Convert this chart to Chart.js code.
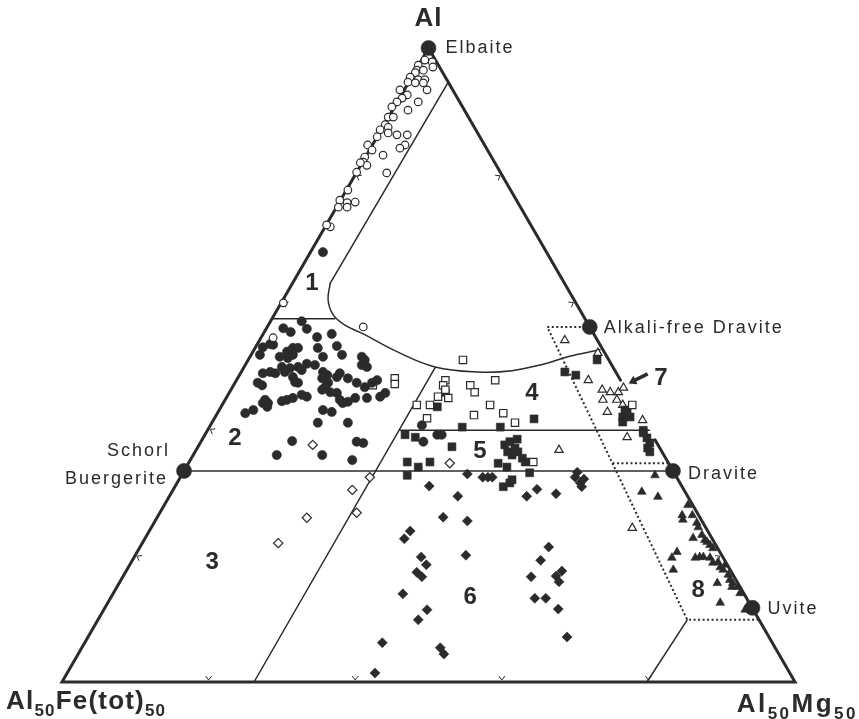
<!DOCTYPE html>
<html><head><meta charset="utf-8">
<script src="https://cdn.jsdelivr.net/npm/chart.js@4.4.0/dist/chart.umd.min.js"></script>
<style>html,body{margin:0;padding:0;background:#fff;}canvas{display:block;}</style>
</head><body>
<canvas id="c" width="859" height="719"></canvas>
<script>
// Positions inside the triangle: x = % along the base (Fe -> Mg side), y = % of height (Al apex = 100)
const openCircles = [[50.5,97.8],[49.5,98.1],[48.6,97.3],[48.4,96.5],[49.3,96.5],[50.6,97.0],[48.2,96.1],[47.5,95.4],[48.6,95.0],[49.5,95.0],[47.2,94.6],[48.2,94.5],[49.3,94.5],[49.8,93.4],[46.1,93.4],[47.1,92.6],[46.4,92.1],[48.6,91.5],[45.7,91.5],[45.0,90.7],[47.2,90.2],[44.5,89.1],[45.2,89.1],[44.1,87.9],[44.5,87.5],[43.4,87.1],[44.5,86.6],[45.7,86.3],[47.1,86.3],[43.0,86.0],[46.8,84.7],[46.1,84.2],[41.7,84.7],[42.3,83.9],[43.8,83.1],[41.3,82.8],[41.1,82.0],[41.6,81.5],[40.7,81.9],[40.2,80.4],[44.3,80.3],[39.0,77.6],[37.9,76.0],[38.9,75.6],[40.0,75.7],[37.7,74.9],[38.9,74.9],[36.6,71.8],[36.1,72.1],[30.2,59.8],[41.1,56.0],[28.8,54.3]];
const filledCircles = [[35.6,67.8],[32.7,56.9],[33.4,55.7],[30.2,55.8],[31.2,55.2],[34.8,54.4],[36.8,54.9],[27.4,52.8],[28.4,53.3],[28.8,53.2],[31.5,52.7],[32.2,52.7],[30.7,52.1],[34.9,52.7],[37.5,53.0],[27.0,51.6],[29.7,51.3],[30.8,51.1],[31.5,51.6],[35.6,51.3],[38.2,51.6],[40.9,51.3],[41.3,50.8],[30.0,49.7],[31.1,49.5],[32.2,49.7],[33.4,50.2],[34.5,50.0],[40.9,50.0],[41.6,49.7],[27.4,48.7],[28.4,48.9],[29.1,48.7],[30.4,48.9],[32.7,49.2],[35.6,48.9],[36.2,48.4],[37.9,48.7],[37.5,48.1],[39.0,47.9],[35.5,47.9],[27.3,46.8],[26.7,47.2],[31.8,47.3],[32.2,47.2],[31.5,48.1],[36.3,47.2],[40.2,47.2],[41.3,46.5],[42.3,47.2],[43.0,47.6],[35.9,46.5],[35.5,46.1],[36.6,45.7],[37.5,45.6],[40.0,44.8],[41.6,44.8],[43.4,45.0],[44.1,45.6],[30.7,44.5],[30.0,44.3],[31.5,44.8],[32.7,45.3],[33.4,45.0],[27.7,44.5],[28.1,44.0],[27.4,44.0],[28.0,43.4],[37.9,44.5],[38.3,44.0],[39.0,44.2],[25.0,42.4],[26.1,42.9],[35.6,42.9],[36.8,42.6],[34.9,40.9],[39.0,40.9],[31.4,38.0],[40.2,37.9],[41.1,37.7],[29.3,35.8],[35.5,35.8],[39.6,35.0],[49.1,40.5],[49.3,37.9],[51.2,39.0],[51.8,39.0]];
const openSquares = [[54.7,50.8],[52.3,47.6],[52.0,46.8],[52.3,46.1],[51.3,45.0],[52.7,44.8],[55.7,46.8],[56.3,45.7],[59.1,47.6],[48.4,43.7],[50.2,43.7],[58.4,43.7],[60.2,42.4],[56.2,42.1],[49.8,41.6],[61.8,40.9],[64.3,34.7],[42.4,46.8],[45.4,47.9],[45.4,47.0],[77.8,43.7]];
const filledSquares = [[52.3,45.7],[51.2,43.4],[64.4,41.5],[68.6,48.9],[70.1,48.4],[73.0,50.8],[54.6,40.2],[59.8,40.2],[46.8,39.0],[48.2,38.6],[53.2,37.1],[47.1,34.7],[48.6,33.9],[50.2,34.7],[47.1,32.6],[60.4,37.4],[61.1,37.9],[62.1,38.3],[60.8,36.3],[61.4,35.8],[62.2,36.3],[61.8,36.9],[62.8,35.3],[63.2,34.7],[59.5,34.5],[60.7,33.9],[63.8,33.0],[60.2,30.8],[61.1,31.4],[61.4,31.9],[76.5,41.8],[76.5,41.0],[77.5,41.8],[77.1,42.6],[79.3,39.3],[79.8,38.5],[80.2,37.7],[79.9,36.9],[80.2,36.3],[79.3,39.7],[76.8,42.9]];
const openDiamonds = [[34.2,37.4],[42.0,32.3],[39.6,30.3],[40.2,26.7],[33.4,25.9],[29.5,21.9],[52.9,34.5]];
const filledDiamonds = [[55.3,32.8],[57.4,32.3],[58.1,32.3],[58.7,32.3],[50.1,30.9],[54.0,29.3],[63.4,29.3],[64.8,30.4],[67.4,29.7],[70.3,33.1],[70.0,32.3],[70.7,31.4],[71.2,32.0],[70.9,30.8],[52.0,26.0],[55.3,25.4],[47.5,23.8],[46.7,22.6],[49.0,19.7],[49.7,18.5],[48.4,17.3],[49.1,16.6],[55.1,20.0],[46.5,13.9],[49.8,11.4],[48.6,9.8],[43.7,6.2],[51.6,5.4],[52.1,4.4],[42.7,1.4],[66.4,21.3],[65.3,19.2],[64.0,16.6],[68.2,17.5],[67.4,16.7],[67.8,15.8],[64.5,13.2],[66.0,13.2],[67.7,11.5],[68.9,7.1]];
const openTriangles = [[68.6,53.9],[73.1,51.9],[71.8,47.6],[73.7,46.1],[74.8,45.7],[75.9,45.7],[76.6,46.4],[73.8,44.5],[75.7,44.5],[76.5,43.7],[74.4,42.6],[79.2,41.3],[77.1,38.6],[67.8,36.6],[77.8,24.3]];
const filledTriangles = [[80.9,32.6],[79.1,30.0],[81.3,29.2],[85.4,27.9],[84.6,26.3],[84.7,25.6],[86.0,26.3],[86.6,25.1],[86.8,24.4],[86.1,22.7],[87.3,23.2],[88.0,22.1],[88.4,21.6],[88.8,21.1],[86.4,19.6],[87.0,19.7],[87.5,19.7],[88.4,19.6],[88.8,18.8],[89.5,18.9],[89.8,18.1],[90.5,18.5],[90.2,17.7],[90.9,16.9],[91.1,16.1],[91.5,15.6],[91.4,15.0],[92.2,15.0],[92.5,14.0],[89.4,15.6],[89.8,12.5],[93.6,12.1],[93.2,11.4],[83.9,20.5],[83.2,19.6],[83.4,17.7],[87.7,22.4]];

// End-member compositions and names
const endmemberNames = ['Elbaite','Alkali-free Dravite','Schorl','Dravite','Uvite'];
const endmemberPos = [[50,100],[72.0,56.0],[16.65,33.3],[83.35,33.3],[94.2,11.7]];
const fieldNumbers = ['1','2','3','4','5','6','7','8'];
const fieldNumberPos = [[34.1,62.9],[23.6,38.5],[20.5,18.9],[64.1,45.6],[57.0,36.3],[55.7,13.4],[81.7,47.9],[86.8,14.5]];
const edgeTickFractions = [0.2,0.4,0.6,0.8];

// Field boundaries
const edgeUpper = [[76.2,47.6],[50,100],[0,0],[100,0],[80.9,38.2]];
const boundaryNearElbaite = [[52.7,94.6],[36.6,62.9]];
const boundaryCurve = [[36.6,62.9],[36.3,60.3],[37.0,57.9],[38.6,56.3],[41.1,54.9],[45.7,52.1],[50.9,49.7],[56.8,48.9],[61.4,49.1],[65.9,50.2],[69.0,51.3],[73.4,52.4]];
const boundary1to2 = [[28.65,57.3],[37.2,57.3]];
const boundaryOblique = [[50.9,49.6],[26.2,0]];
const boundary4to5 = [[46.1,39.7],[80.15,39.7]];
const schorlDravite = [[16.65,33.3],[83.35,33.3]];
const boundaryLowerRight = [[85.3,9.8],[79.8,0]];
const dottedOuter = [[72.0,56.0],[66.2,56.0],[85.3,9.8],[95.1,9.8]];
const dottedDravite = [[75.1,34.5],[82.75,34.5]];

const INK = '#2b2b2b';
const FONT = '"Liberation Sans", Arial, Helvetica, sans-serif';
const toXY = a => a.map(p => ({x: p[0], y: p[1]}));

function markerSet(data, style, filled, r) {
  return {data: toXY(data), pointStyle: style, pointRadius: r, pointHoverRadius: r,
    pointBackgroundColor: filled ? INK : '#fff', pointBorderColor: INK,
    pointBorderWidth: filled ? 0.6 : 1.2, showLine: false, clip: false, order: 1};
}
function lineSet(data, w, dash, tension) {
  return {data: toXY(data), showLine: true, pointRadius: 0, borderColor: INK, borderWidth: w,
    borderDash: dash || [], tension: tension || 0, fill: false, clip: false, order: 5,
    borderCapStyle: dash ? 'butt' : 'round', borderJoinStyle: 'miter'};
}

const datasets = [
  lineSet(edgeUpper, 3),
  lineSet(boundaryNearElbaite, 1.5),
  lineSet(boundaryCurve, 1.5, null, 0.4),
  lineSet(boundary1to2, 1.5),
  lineSet(boundaryOblique, 1.5),
  lineSet(boundary4to5, 1.5),
  lineSet(schorlDravite, 1.5),
  lineSet(boundaryLowerRight, 1.5),
  lineSet(dottedOuter, 2, [2, 2.5]),
  lineSet(dottedDravite, 2, [2, 2.5]),
  markerSet(openCircles, 'circle', false, 3.8),
  markerSet(filledCircles, 'circle', true, 4.6),
  markerSet(openSquares, 'rect', false, 5.2),
  markerSet(filledSquares, 'rect', true, 5.6),
  markerSet(openDiamonds, 'rectRot', false, 4.6),
  markerSet(filledDiamonds, 'rectRot', true, 5),
  markerSet(openTriangles, 'triangle', false, 4.8),
  markerSet(filledTriangles, 'triangle', true, 5),
  Object.assign(markerSet(endmemberPos, 'circle', true, 7.5), {order: 0})
];

function spaced(ctx, s, x, y, font, align, sp) {
  ctx.font = font; ctx.textAlign = align; ctx.textBaseline = 'middle';
  ctx.letterSpacing = sp || '0px';
  ctx.fillText(s, x, y);
  ctx.letterSpacing = '0px';
}
function rich(ctx, parts, x, y, align, sp) {
  const big = 'bold 26px ' + FONT, small = 'bold 17px ' + FONT;
  ctx.textBaseline = 'alphabetic'; ctx.textAlign = 'left';
  ctx.letterSpacing = sp || '0px';
  const w = parts.map(p => { ctx.font = p[1] ? small : big; return ctx.measureText(p[0]).width; });
  let cx = align === 'right' ? x - w.reduce((a, b) => a + b, 0) : x;
  parts.forEach((p, i) => { ctx.font = p[1] ? small : big; ctx.fillText(p[0], cx, p[1] ? y + 7 : y); cx += w[i]; });
  ctx.letterSpacing = '0px';
}

const decor = {
  id: 'decor',
  beforeDatasetsDraw(chart) {
    const {ctx, scales: {x, y}} = chart;
    const P = (a, b) => [x.getPixelForValue(a), y.getPixelForValue(b)];
    const A = P(0, 0), B = P(100, 0), C = P(50, 100);
    const cen = [(A[0] + B[0] + C[0]) / 3, (A[1] + B[1] + C[1]) / 3];
    ctx.save(); ctx.strokeStyle = INK; ctx.lineWidth = 1;
    [[A, B], [A, C], [B, C]].forEach(([s, e]) => {
      const dx = e[0] - s[0], dy = e[1] - s[1], L = Math.hypot(dx, dy);
      const t = [dx / L, dy / L];
      let n = [-t[1], t[0]];
      edgeTickFractions.forEach(f => {
        const p = [s[0] + dx * f, s[1] + dy * f];
        if ((cen[0] - p[0]) * n[0] + (cen[1] - p[1]) * n[1] < 0) n = [-n[0], -n[1]];
        const tip = [p[0] + n[0] * 2, p[1] + n[1] * 2];
        ctx.beginPath();
        ctx.moveTo(tip[0] + n[0] * 4 + t[0] * 3, tip[1] + n[1] * 4 + t[1] * 3);
        ctx.lineTo(tip[0], tip[1]);
        ctx.lineTo(tip[0] + n[0] * 4 - t[0] * 3, tip[1] + n[1] * 4 - t[1] * 3);
        ctx.stroke();
      });
    });
    ctx.restore();
  },
  afterDatasetsDraw(chart) {
    const {ctx, scales: {x, y}} = chart;
    const P = (a, b) => [x.getPixelForValue(a), y.getPixelForValue(b)];
    ctx.save(); ctx.fillStyle = INK; ctx.strokeStyle = INK;
    const lab = '18px ' + FONT;
    // end-member names
    let p = P(...endmemberPos[0]); spaced(ctx, endmemberNames[0], p[0] + 17, p[1], lab, 'left', '2px');
    p = P(...endmemberPos[1]); spaced(ctx, endmemberNames[1], p[0] + 14, p[1] + 1, lab, 'left', '2px');
    p = P(...endmemberPos[2]); spaced(ctx, endmemberNames[2], p[0] - 14, p[1] - 20, lab, 'right', '2px');
    spaced(ctx, 'Buergerite', p[0] - 16, p[1] + 8, lab, 'right', '2px');
    p = P(...endmemberPos[3]); spaced(ctx, endmemberNames[3], p[0] + 15, p[1] + 3, lab, 'left', '2px');
    p = P(...endmemberPos[4]); spaced(ctx, endmemberNames[4], p[0] + 15, p[1] + 1, lab, 'left', '2px');
    // field numbers
    fieldNumbers.forEach((s, i) => { const q = P(...fieldNumberPos[i]); spaced(ctx, s, q[0], q[1], 'bold 24px ' + FONT, 'center'); });
    // arrow to field 7
    const a0 = P(79.9, 48.6), a1 = P(77.3, 47.1);
    const ang = Math.atan2(a1[1] - a0[1], a1[0] - a0[0]);
    ctx.lineWidth = 3.5; ctx.lineCap = 'butt';
    ctx.beginPath(); ctx.moveTo(a0[0], a0[1]);
    ctx.lineTo(a1[0] - Math.cos(ang) * 5, a1[1] - Math.sin(ang) * 5); ctx.stroke();
    ctx.beginPath(); ctx.moveTo(a1[0], a1[1]);
    ctx.lineTo(a1[0] - Math.cos(ang - 0.55) * 9, a1[1] - Math.sin(ang - 0.55) * 9);
    ctx.lineTo(a1[0] - Math.cos(ang + 0.55) * 9, a1[1] - Math.sin(ang + 0.55) * 9);
    ctx.closePath(); ctx.fill();
    // corner labels
    const top = P(50, 100);
    spaced(ctx, 'Al', top[0], top[1] - 29, 'bold 26px ' + FONT, 'center', '1px');
    const bl = P(0, 0), br = P(100, 0);
    rich(ctx, [['Al', 0], ['50', 1], ['Fe(tot)', 0], ['50', 1]], bl[0] - 56, bl[1] + 27, 'left', '1.2px');
    rich(ctx, [['Al', 0], ['50', 1], ['Mg', 0], ['50', 1]], br[0] + 63, br[1] + 30, 'right', '2.5px');
    ctx.restore();
  }
};

new Chart(document.getElementById('c'), {
  type: 'scatter',
  data: {datasets},
  options: {
    responsive: false, animation: false, events: [],
    layout: {padding: {left: 62, right: 64, top: 48, bottom: 37}},
    scales: {x: {type: 'linear', min: 0, max: 100, display: false}, y: {type: 'linear', min: 0, max: 100, display: false}},
    plugins: {legend: {display: false}, tooltip: {enabled: false}}
  },
  plugins: [decor]
});
</script>
</body></html>
